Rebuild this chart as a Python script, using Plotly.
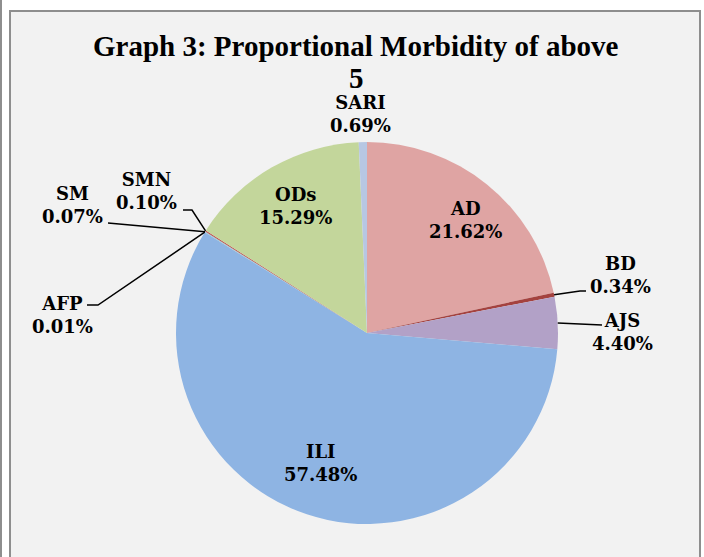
import math

import plotly.graph_objects as go

# data
labels = ["AD", "BD", "AJS", "ILI", "AFP", "SM", "SMN", "ODs", "SARI"]
shares = [21.62, 0.34, 4.40, 57.48, 0.01, 0.07, 0.10, 15.29, 0.69]
title_lines = ["Graph 3: Proportional Morbidity of above", "5"]

# styles
colors = ["#DFA4A3", "#A4423F", "#B2A1C7", "#8EB4E3", "#F9B074",
          "#93CDDD", "#C0504D", "#C3D69B", "#B7C7E3"]
W, H = 704, 557
CX, CY, R = 367, 333, 191

# label centre (px) and leader elbows (px), Excel style placement
label_pos = {
    "AD": ((465, 220), []),
    "BD": ((620, 275), [(580, 291), (586, 291)]),
    "AJS": ((622, 332), [(602, 325)]),
    "ILI": ((320, 463), []),
    "AFP": ((62, 315), [(98, 305), (87, 305)]),
    "SM": ((72, 205), [(108, 223)]),
    "SMN": ((146, 191), [(192, 210), (183, 210)]),
    "ODs": ((295, 206), []),
    "SARI": ((360, 114), []),
}


def px(x):
    return x / W


def py(y):
    return 1 - y / H


fig = go.Figure()
fig.add_trace(go.Pie(
    labels=labels,
    values=shares,
    sort=False,
    direction="clockwise",
    rotation=0,
    textinfo="none",
    hoverinfo="label+percent",
    marker=dict(colors=colors, line=dict(width=0)),
    domain=dict(x=[px(CX - R), px(CX + R)], y=[py(CY + R), py(CY - R)]),
    showlegend=False,
))

shapes = [
    dict(type="rect", xref="paper", yref="paper", layer="below",
         x0=px(10), x1=px(700), y0=py(H + 5), y1=py(11),
         fillcolor="#F2F2F2", line=dict(color="#8E8E8E", width=2)),
    dict(type="rect", xref="paper", yref="paper", layer="below",
         x0=0, x1=px(2), y0=0, y1=1,
         fillcolor="#8E8E8E", line=dict(width=0)),
]
annotations = []

total = sum(shares)
cum = 0
for name, val in zip(labels, shares):
    theta = math.radians((cum + val / 2) / total * 360)
    cum += val
    ex = CX + R * math.sin(theta)
    ey = CY - R * math.cos(theta)
    (lx, ly), elbows = label_pos[name]
    if elbows:
        pts = [(ex, ey)] + elbows
        path = "M " + " L ".join(f"{px(a):.5f},{py(b):.5f}" for a, b in pts)
        shapes.append(dict(type="path", xref="paper", yref="paper", path=path,
                           line=dict(color="black", width=1.5)))
    annotations.append(dict(
        x=px(lx), y=py(ly), xref="paper", yref="paper",
        text=f"{name}<br>{val:.2f}%", showarrow=False,
        xanchor="center", yanchor="middle", align="center",
        font=dict(family="DejaVu Serif", size=18, color="black", weight="bold"),
    ))

for line, ycen in zip(title_lines, [46, 78]):
    annotations.append(dict(
        x=px(356), y=py(ycen), xref="paper", yref="paper",
        text=f"<b>{line}</b>", showarrow=False,
        xanchor="center", yanchor="middle",
        font=dict(family="Liberation Serif", size=29, color="black"),
    ))

fig.update_layout(
    width=W, height=H,
    margin=dict(l=0, r=0, t=0, b=0),
    paper_bgcolor="white",
    shapes=shapes,
    annotations=annotations,
)

fig.write_html("out.html", config={"displayModeBar": False},
               post_script="document.body.style.margin='0';")
